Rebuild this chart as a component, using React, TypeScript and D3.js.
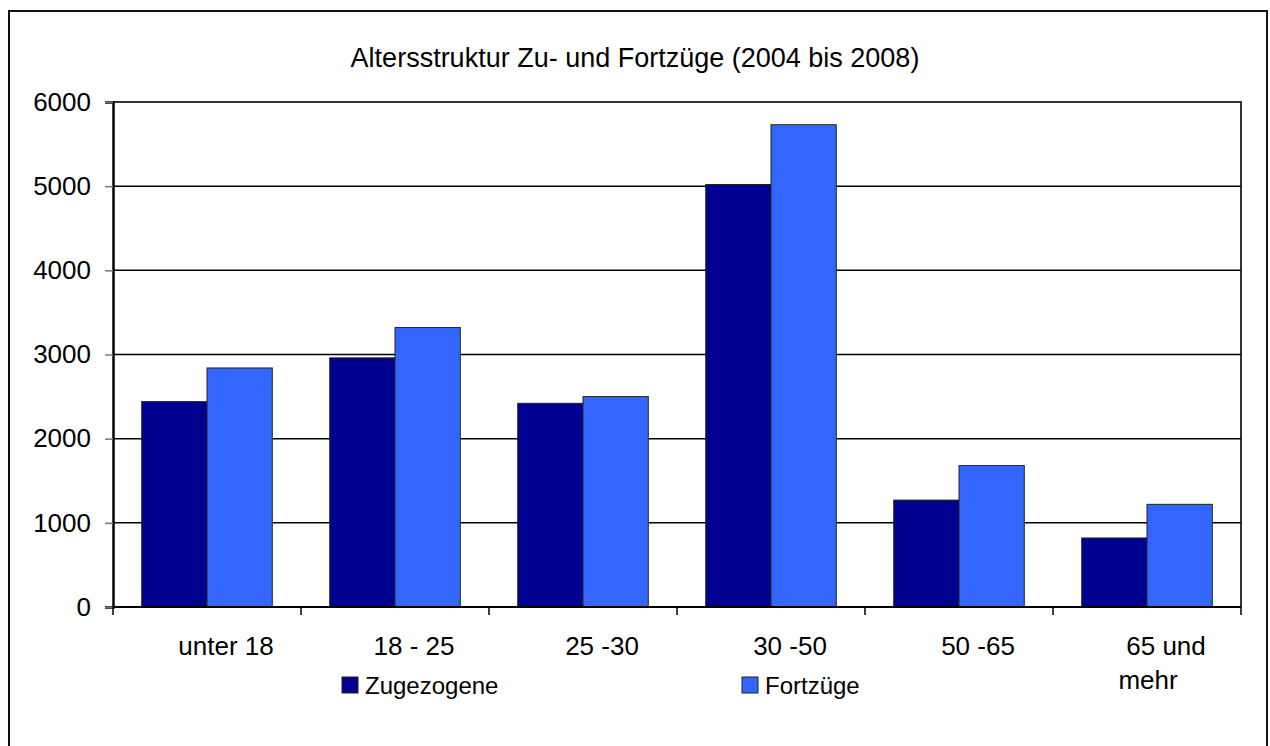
import React, { useEffect, useRef } from 'react';
import * as d3 from 'd3';

// Altersgruppen und Werte
const categories: string[][] = [['unter 18'], ['18 - 25'], ['25 -30'], ['30 -50'], ['50 -65'], ['65 und', 'mehr']];
const seriesNames = ['Zugezogene', 'Fortzüge'];
const zugezogene = [2440, 2960, 2420, 5020, 1270, 820];
const fortzuege = [2840, 3320, 2500, 5730, 1680, 1220];
const yTicks = [0, 1000, 2000, 3000, 4000, 5000, 6000];
const colors = ['#000090', '#3366FF'];

function App() {
  const svgRef = useRef<SVGSVGElement | null>(null);

  useEffect(() => {
    if (!svgRef.current) return;
    const svg = d3.select(svgRef.current);
    svg.selectAll('*').remove();

    const font = 'Liberation Sans, Arial, sans-serif';
    const plot = { left: 113, top: 102, right: 1241, bottom: 607 };

    // outer frame (bottom edge lies outside the picture)
    svg.append('rect')
      .attr('x', 9).attr('y', 11)
      .attr('width', 1258).attr('height', 760)
      .attr('fill', 'none').attr('stroke', '#111').attr('stroke-width', 2);

    svg.append('text')
      .attr('x', 635).attr('y', 67)
      .attr('text-anchor', 'middle')
      .attr('font-family', font).attr('font-size', 27)
      .attr('fill', '#000')
      .text('Altersstruktur Zu- und Fortzüge (2004 bis 2008)');

    const x = d3.scaleBand<number>()
      .domain(d3.range(categories.length))
      .range([plot.left, plot.right]);
    const inner = d3.scaleBand<number>()
      .domain([0, 1])
      .range([0, x.bandwidth()])
      .paddingOuter(0.44);
    const y = d3.scaleLinear().domain([0, 6000]).range([plot.bottom, plot.top]);

    // plot border (top / right)
    svg.append('path')
      .attr('d', `M${plot.left},${plot.top}H${plot.right}V${plot.bottom}`)
      .attr('fill', 'none').attr('stroke', '#333').attr('stroke-width', 2);

    // gridlines
    svg.append('g').selectAll('line')
      .data(yTicks.filter(t => t > 0 && t < 6000))
      .join('line')
      .attr('x1', plot.left).attr('x2', plot.right)
      .attr('y1', d => y(d)).attr('y2', d => y(d))
      .attr('stroke', '#000').attr('stroke-width', 1.5);

    // y axis
    const yAxis = svg.append('g').attr('transform', `translate(${plot.left},0)`)
      .call(d3.axisLeft(y).tickValues(yTicks).tickSize(8).tickPadding(14).tickFormat(d3.format('d')));
    yAxis.select('.domain').attr('stroke', '#000').attr('stroke-width', 2.5);
    yAxis.selectAll('.tick line').attr('stroke', '#777').attr('stroke-width', 1.5);
    yAxis.selectAll('.tick text')
      .attr('font-family', font).attr('font-size', 26).attr('fill', '#000');

    // bars
    const series = [zugezogene, fortzuege];
    series.forEach((values, s) => {
      svg.append('g').selectAll('rect')
        .data(values)
        .join('rect')
        .attr('x', (d, i) => (x(i) as number) + (inner(s) as number))
        .attr('y', d => y(d))
        .attr('width', inner.bandwidth())
        .attr('height', d => plot.bottom - y(d))
        .attr('fill', colors[s])
        .attr('stroke', '#222').attr('stroke-width', 1);
    });

    // x axis baseline and ticks
    svg.append('line')
      .attr('x1', plot.left).attr('x2', plot.right)
      .attr('y1', plot.bottom).attr('y2', plot.bottom)
      .attr('stroke', '#000').attr('stroke-width', 2);
    svg.append('g').selectAll('line')
      .data(d3.range(categories.length + 1))
      .join('line')
      .attr('x1', i => plot.left + i * x.step()).attr('x2', i => plot.left + i * x.step())
      .attr('y1', plot.bottom).attr('y2', plot.bottom + 8)
      .attr('stroke', '#000').attr('stroke-width', 1.5);

    // category labels (Excel shifts them slightly to the right)
    const labels = svg.append('g');
    categories.forEach((lines, i) => {
      const cx = (x(i) as number) + x.bandwidth() / 2;
      lines.forEach((ln, j) => {
        labels.append('text')
          .attr('x', cx + (j === 0 ? 19 : 1))
          .attr('y', 655 + j * 34)
          .attr('text-anchor', 'middle')
          .attr('font-family', font).attr('font-size', 26).attr('fill', '#000')
          .text(ln);
      });
    });

    // legend
    const legendX = [342, 742];
    seriesNames.forEach((name, s) => {
      svg.append('rect')
        .attr('x', legendX[s]).attr('y', 677)
        .attr('width', 16).attr('height', 16)
        .attr('fill', colors[s]).attr('stroke', '#222').attr('stroke-width', 1);
      svg.append('text')
        .attr('x', legendX[s] + 23).attr('y', 694)
        .attr('font-family', font).attr('font-size', 24).attr('fill', '#000')
        .text(name);
    });
  }, []);

  return (
    <svg
      ref={svgRef}
      width={1270}
      height={746}
      style={{ position: 'absolute', left: 0, top: 0, background: '#fff' }}
    />
  );
}

export default App;
